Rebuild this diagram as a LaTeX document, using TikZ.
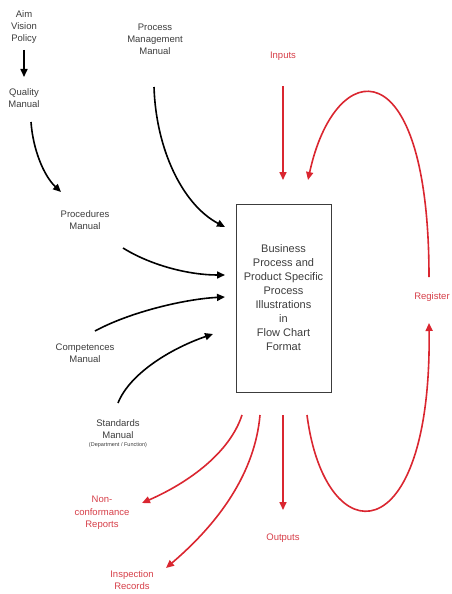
\documentclass[tikz,border=0pt]{standalone}
\usepackage{fontspec}
\setmainfont{Liberation Sans}
\usetikzlibrary{arrows.meta}
\definecolor{mred}{RGB}{218,38,48}
\definecolor{mredtxt}{RGB}{214,62,72}
\definecolor{mgray}{RGB}{60,60,60}
\tikzset{
  lbl/.style={align=center, font=\fontsize{9.5}{12}\selectfont, text=mgray, inner sep=0pt},
  rlbl/.style={align=center, font=\fontsize{9.5}{12.5}\selectfont, text=mredtxt, inner sep=0pt},
  barrow/.style={draw=black, line width=1.6pt, -{Triangle[length=8pt,width=7pt]}},
  rarrow/.style={draw=mred, line width=1.6pt, -{Triangle[length=8pt,width=7pt]}},
  mainbox/.style={draw=mgray, line width=1pt, minimum width=95pt, minimum height=188pt, inner sep=0pt, align=center, font=\fontsize{11}{14}\selectfont, text=mgray}
}
\begin{document}
\begin{tikzpicture}[x=1pt,y=-1pt]
\useasboundingbox (0,0) rectangle (451,594);
% text nodes
\node[lbl] (aim) at (24,27) {Aim\\Vision\\Policy};
\node[lbl] (quality) at (24,98) {Quality\\Manual};
\node[lbl] (pmm) at (155,39) {Process\\Management\\Manual};
\node[lbl] (proc) at (85,220) {Procedures\\Manual};
\node[lbl] (comp) at (85,353) {Competences\\Manual};
\node[lbl] (std) at (118,429) {Standards\\Manual};
\node[lbl, font=\fontsize{5.5}{7}\selectfont] (stdsub) at (118,445) {(Department / Function)};
\node[mainbox] (box) at (283.5,298) {Business\\Process and\\Product Specific\\Process\\Illustrations\\in\\Flow Chart\\Format};
\node[rlbl] (inputs) at (283,56) {Inputs};
\node[rlbl] (register) at (432,297) {Register};
\node[rlbl] (outputs) at (283,538) {Outputs};
\node[rlbl] (ncr) at (102,513) {Non-\\conformance\\Reports};
\node[rlbl] (insp) at (132,580) {Inspection\\Records};
% coordinates
\coordinate (a1) at (24,50);
\coordinate (a2) at (24,77);
\coordinate (q1) at (31,122);
\coordinate (q2) at (61,192);
\coordinate (p1) at (154,87);
\coordinate (p2) at (225,227);
\coordinate (pr1) at (123,248);
\coordinate (pr2) at (225,275);
\coordinate (c1) at (95,331);
\coordinate (c2) at (225,297);
\coordinate (s1) at (118,403);
\coordinate (s2) at (213,334);
\coordinate (i1) at (283,86);
\coordinate (i2) at (283,180);
\coordinate (rt1) at (429,277);
\coordinate (rt2) at (308,180);
\coordinate (rb1) at (307,415);
\coordinate (rb2) at (429,323);
\coordinate (o1) at (283,415);
\coordinate (o2) at (283,510);
\coordinate (n1) at (242,415);
\coordinate (n2) at (142,503);
\coordinate (in1) at (260,415);
\coordinate (in2) at (166,568);
% black arrows
\draw[barrow] (a1) -- (a2);
\draw[barrow] (q1) .. controls (33,150) and (44,176) .. (q2);
\draw[barrow] (p1) .. controls (156,150) and (183,205) .. (p2);
\draw[barrow] (pr1) .. controls (152,266) and (190,275) .. (pr2);
\draw[barrow] (c1) .. controls (130,312) and (185,299) .. (c2);
\draw[barrow] (s1) .. controls (130,373) and (172,348) .. (s2);
% red arrows
\draw[rarrow] (i1) -- (i2);
\draw[rarrow] (rt1) .. controls (429,45) and (335,55) .. (rt2);
\draw[rarrow] (rb1) .. controls (325,555) and (432,555) .. (rb2);
\draw[rarrow] (o1) -- (o2);
\draw[rarrow] (n1) .. controls (230,452) and (190,482) .. (n2);
\draw[rarrow] (in1) .. controls (255,472) and (220,522) .. (in2);
\end{tikzpicture}
\end{document}
